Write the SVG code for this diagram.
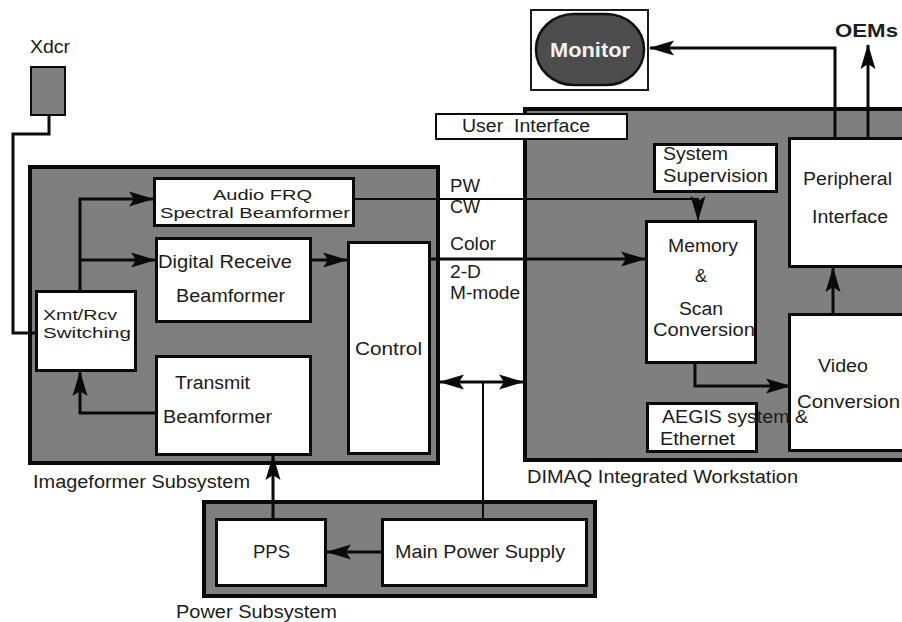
<svg xmlns="http://www.w3.org/2000/svg" width="902" height="622" viewBox="0 0 902 622">
  <defs>
    <style>
      .t{font-family:"Liberation Sans",Arial,Helvetica,sans-serif;font-size:18px;fill:#1c1c1c}
      .s{font-size:15.5px}
      .grp{fill:#7f7f7f;stroke:#0a0a0a;stroke-width:4}
      .box{fill:#fff;stroke:#0a0a0a;stroke-width:3}
      .w{fill:none;stroke:#0a0a0a;stroke-width:3;stroke-linejoin:miter}
      .thin{stroke-width:2}
      .arr{marker-end:url(#ah)}
      .both{marker-start:url(#ah);marker-end:url(#ah)}
    </style>
    <marker id="ah" markerUnits="userSpaceOnUse" markerWidth="25" markerHeight="16" viewBox="0 0 25 16" refX="24" refY="8" orient="auto-start-reverse">
      <path d="M0,0.5 L25,8 L0,15.5 L5,8 z" fill="#0a0a0a"/>
    </marker>
  </defs>
  <rect width="902" height="622" fill="#fff"/>

  <!-- subsystem frames -->
  <g id="imageformer-subsystem">
    <rect class="grp" x="30" y="167" width="408" height="296"/>
    <text class="t" x="33" y="488" textLength="217" lengthAdjust="spacingAndGlyphs">Imageformer Subsystem</text>
  </g>
  <g id="dimaq-workstation">
    <rect class="grp" x="525" y="109" width="400" height="351"/>
    <text class="t" x="527" y="483" textLength="271" lengthAdjust="spacingAndGlyphs">DIMAQ Integrated Workstation</text>
  </g>
  <g id="power-subsystem">
    <rect class="grp" x="204" y="502" width="391" height="94"/>
    <text class="t" x="176" y="618" textLength="161" lengthAdjust="spacingAndGlyphs">Power Subsystem</text>
  </g>

  <!-- transducer -->
  <g id="xdcr">
    <text class="t" x="30" y="53" textLength="40" lengthAdjust="spacingAndGlyphs">Xdcr</text>
    <rect x="31" y="67" width="34" height="48" fill="#7f7f7f" stroke="#0a0a0a" stroke-width="2"/>
  </g>

  <!-- imageformer blocks -->
  <g id="audio-frq">
    <rect class="box" x="154.5" y="178.5" width="199" height="47"/>
    <text class="t s" x="213" y="200" textLength="99" lengthAdjust="spacingAndGlyphs">Audio FRQ</text>
    <text class="t s" x="160" y="218" textLength="190" lengthAdjust="spacingAndGlyphs">Spectral Beamformer</text>
  </g>
  <g id="digital-receive">
    <rect class="box" x="156.5" y="238.5" width="154" height="83"/>
    <text class="t" x="158" y="268" textLength="134" lengthAdjust="spacingAndGlyphs">Digital Receive</text>
    <text class="t" x="176" y="302" textLength="109" lengthAdjust="spacingAndGlyphs">Beamformer</text>
  </g>
  <g id="control">
    <rect class="box" x="348.5" y="242.5" width="81" height="211"/>
    <text class="t" x="355" y="355" textLength="67" lengthAdjust="spacingAndGlyphs">Control</text>
  </g>
  <g id="xmt-rcv">
    <rect class="box" x="36.5" y="291.5" width="99" height="79"/>
    <text class="t s" x="43" y="320" textLength="74" lengthAdjust="spacingAndGlyphs">Xmt/Rcv</text>
    <text class="t s" x="43" y="338" textLength="88" lengthAdjust="spacingAndGlyphs">Switching</text>
  </g>
  <g id="transmit">
    <rect class="box" x="156.5" y="356.5" width="154" height="98"/>
    <text class="t" x="175" y="389" textLength="75" lengthAdjust="spacingAndGlyphs">Transmit</text>
    <text class="t" x="163" y="423" textLength="109" lengthAdjust="spacingAndGlyphs">Beamformer</text>
  </g>

  <!-- power blocks -->
  <g id="pps">
    <rect class="box" x="216.5" y="519.5" width="109" height="66"/>
    <text class="t" x="253" y="558" textLength="37" lengthAdjust="spacingAndGlyphs">PPS</text>
  </g>
  <g id="main-power">
    <rect class="box" x="382.5" y="519.5" width="204" height="66"/>
    <text class="t" x="395" y="558" textLength="170" lengthAdjust="spacingAndGlyphs">Main Power Supply</text>
  </g>

  <!-- workstation blocks -->
  <g id="user-interface">
    <rect x="436" y="114" width="191" height="25" fill="#fff" stroke="#0a0a0a" stroke-width="2"/>
    <text class="t" x="462" y="132" textLength="128" lengthAdjust="spacingAndGlyphs" xml:space="preserve">User  Interface</text>
  </g>
  <g id="system-supervision">
    <rect class="box" x="654.5" y="144.5" width="122" height="47"/>
    <text class="t" x="663" y="160" textLength="65" lengthAdjust="spacingAndGlyphs">System</text>
    <text class="t" x="663" y="182" textLength="105" lengthAdjust="spacingAndGlyphs">Supervision</text>
  </g>
  <g id="memory-scan">
    <rect class="box" x="646.5" y="221.5" width="109" height="141"/>
    <text class="t" x="668" y="252" textLength="70" lengthAdjust="spacingAndGlyphs">Memory</text>
    <text class="t" x="695" y="282">&amp;</text>
    <text class="t" x="679" y="315" textLength="44" lengthAdjust="spacingAndGlyphs">Scan</text>
    <text class="t" x="653" y="336" textLength="102" lengthAdjust="spacingAndGlyphs">Conversion</text>
  </g>
  <g id="peripheral-interface">
    <rect class="box" x="789.5" y="138.5" width="130" height="128"/>
    <text class="t" x="803" y="185" textLength="89" lengthAdjust="spacingAndGlyphs">Peripheral</text>
    <text class="t" x="812" y="223" textLength="76" lengthAdjust="spacingAndGlyphs">Interface</text>
  </g>
  <g id="video-conversion">
    <rect class="box" x="789.5" y="314.5" width="130" height="136"/>
    <text class="t" x="818" y="372" textLength="50" lengthAdjust="spacingAndGlyphs">Video</text>
    <text class="t" x="797" y="408" textLength="103" lengthAdjust="spacingAndGlyphs">Conversion</text>
  </g>
  <g id="aegis">
    <rect class="box" x="647.5" y="403.5" width="109" height="48"/>
    <text class="t" x="662" y="423" textLength="146" lengthAdjust="spacingAndGlyphs">AEGIS system &amp;</text>
    <text class="t" x="660" y="445" textLength="75" lengthAdjust="spacingAndGlyphs">Ethernet</text>
  </g>

  <!-- outputs -->
  <g id="monitor">
    <rect x="531" y="10" width="117" height="80" fill="#fff" stroke="#1a1a1a" stroke-width="2"/>
    <rect x="536" y="14" width="108" height="71" rx="38" ry="35" fill="#4d4d4d" stroke="#111" stroke-width="2.5"/>
    <text x="550" y="57" textLength="80" lengthAdjust="spacingAndGlyphs" style="font-family:'Liberation Sans',Arial,sans-serif;font-size:20px;font-weight:bold;fill:#f2f2f2">Monitor</text>
  </g>
  <g id="oems">
    <text class="t" x="835" y="37" textLength="63" lengthAdjust="spacingAndGlyphs" style="font-weight:bold">OEMs</text>
  </g>

  <!-- mode labels beside the data paths -->
  <g id="mode-labels">
    <text class="t" x="450" y="192" textLength="30" lengthAdjust="spacingAndGlyphs">PW</text>
    <text class="t" x="450" y="213" textLength="30" lengthAdjust="spacingAndGlyphs">CW</text>
    <text class="t" x="450" y="250" textLength="46" lengthAdjust="spacingAndGlyphs">Color</text>
    <text class="t" x="450" y="278" textLength="31" lengthAdjust="spacingAndGlyphs">2-D</text>
    <text class="t" x="450" y="299" textLength="70" lengthAdjust="spacingAndGlyphs">M-mode</text>
  </g>

  <!-- connectors -->
  <g id="connectors">
    <path class="w" d="M49,116 V134 H13 V333 H36"/>
    <path class="w arr" d="M80,290 V199 H153"/>
    <path class="w arr" d="M80,260 H155"/>
    <path class="w arr" d="M311,260 H347"/>
    <path class="w arr" d="M155,413 H80 V372"/>
    <path class="w thin arr" d="M355,199 H698 V220"/>
    <path class="w arr" d="M431,259 H645"/>
    <path class="w both" d="M440,382 H523"/>
    <path class="w thin" d="M483,382 V518"/>
    <path class="w arr" d="M273,518 V456"/>
    <path class="w arr" d="M381,552 H327"/>
    <path class="w arr" d="M695,363 V386 H790"/>
    <path class="w arr" d="M833,313 V268"/>
    <path class="w arr" d="M835,137 V48 H650"/>
    <path class="w arr" d="M868,137 V45"/>
  </g>
</svg>
